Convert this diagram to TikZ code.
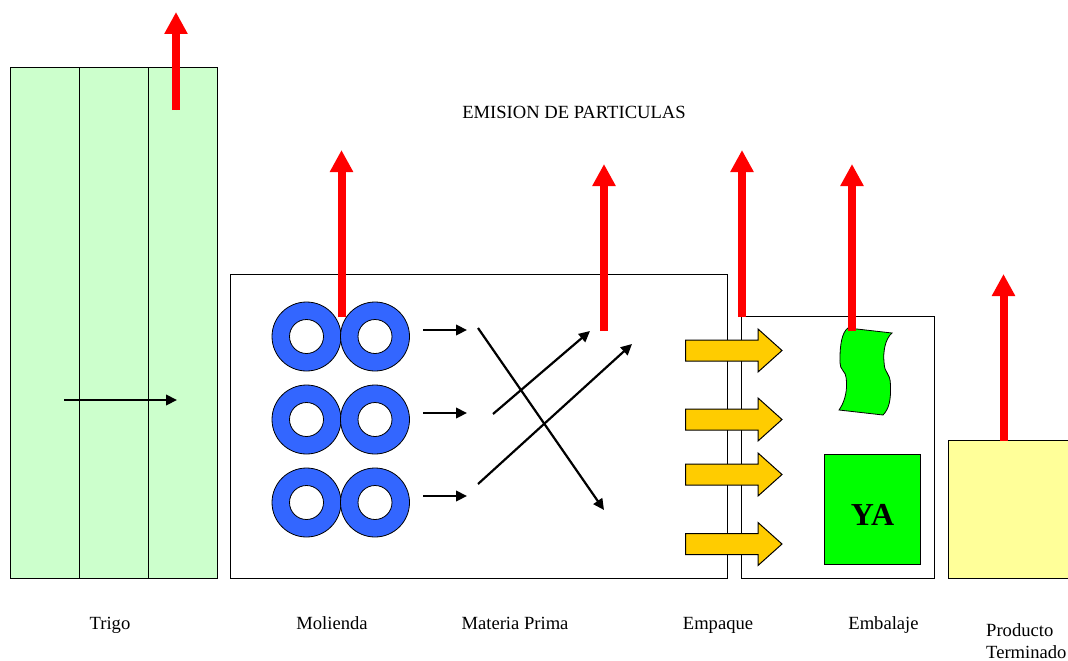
\documentclass[tikz,border=0pt]{standalone}
\usepackage{fontspec}
\setmainfont{Liberation Serif}
\usetikzlibrary{arrows.meta}
\tikzset{
  panel/.style={draw=black,line width=0.8pt,fill=#1,inner sep=0pt,anchor=north west},
  lbl/.style={font=\fontsize{18.6}{22}\selectfont,inner sep=0pt,text=black},
  lblb/.style={lbl,anchor=base},
  redup/.style={draw=red,line width=8pt,-{Triangle[width=22pt,length=22pt]},fill=red},
  blk/.style={draw=black,line width=2.2pt,-{Triangle[width=10.5pt,length=11pt]}},
  donut/.style={draw=black,line width=0.8pt,fill=ringblue,even odd rule},
  yarrow/.style={draw=black,line width=1pt,fill=arrowyellow},
}
\definecolor{palegreen}{HTML}{CCFFCC}
\definecolor{paleyellow}{HTML}{FFFF99}
\definecolor{ringblue}{HTML}{3366FF}
\definecolor{arrowyellow}{HTML}{FFCC00}
\definecolor{brightgreen}{HTML}{00FF00}
\newcommand{\panelbox}[6]{\node[panel=#6,minimum width=#4 pt,minimum height=#5 pt] (#1) at (#2,#3) {};}
\begin{document}
\begin{tikzpicture}[x=1pt,y=-1pt]
\useasboundingbox (0,0) rectangle (1068,661);
% wheat silo
\panelbox{p1}{9.5}{67}{69}{511}{palegreen}
\panelbox{p2}{78.5}{67}{69}{511}{palegreen}
\panelbox{p3}{147.5}{67}{69.5}{511}{palegreen}
% rooms
\panelbox{mol}{230}{274}{497}{304}{white}
\panelbox{emb}{740.5}{316}{193.5}{262}{white}
\panelbox{prod}{947.5}{440}{125}{138}{paleyellow}
\panelbox{ya}{823.5}{453.5}{96.5}{110.5}{brightgreen}
\node[font=\bfseries\fontsize{32}{32}\selectfont,inner sep=0pt] (yat) at (872.5,515) {YA};
% wavy sheet
\filldraw[draw=black,line width=0.8pt,fill=brightgreen]
  (848,328) -- (892,333)
  .. controls (885,339) and (883,352) .. (884,362)
  .. controls (884.5,375) and (890,371) .. (890.5,385)
  .. controls (891,400) and (889,409) .. (883,415)
  -- (839,410)
  .. controls (844,403) and (847,393) .. (846.5,383)
  .. controls (846,365) and (839.5,376) .. (840,358)
  .. controls (840,345) and (842,332) .. (848,328) -- cycle;
% rollers
\foreach \n/\x/\y in {a/306.5/336.5,b/375/336.5,c/306.5/419.5,d/375/419.5,e/306.5/502.5,f/375/502.5}{
  \coordinate (r\n) at (\x,\y);
  \path[donut] (r\n) circle[radius=34.5pt] (r\n) circle[radius=17pt];
}
% flow arrows
\coordinate (w0) at (64,400); \coordinate (w1) at (177,400);
\draw[blk] (w0) -- (w1);
\foreach \n/\y in {a/330,b/413,c/496}{
  \coordinate (s\n) at (423,\y); \coordinate (t\n) at (467,\y);
  \draw[blk] (s\n) -- (t\n);
}
\coordinate (c1a) at (478,328); \coordinate (c1b) at (604,510);
\coordinate (c2a) at (493,414); \coordinate (c2b) at (590,331);
\coordinate (c3a) at (478,484); \coordinate (c3b) at (632,344);
\draw[blk] (c1a) -- (c1b);
\draw[blk] (c2a) -- (c2b);
\draw[blk] (c3a) -- (c3b);
% yellow arrows
\foreach \y in {350.5,419.5,474.5,544}{
  \filldraw[yarrow] (685.5,\y-10.5) -- (758,\y-10.5) -- (758,\y-21.5) -- (782,\y) -- (758,\y+21.5) -- (758,\y+10.5) -- (685.5,\y+10.5) -- cycle;
}
% red emission arrows
\foreach \n/\x/\a/\b in {a/176/110/12,b/341.5/317/150,c/604/331/164,d/742/317/150,e/852/331/164,f/1003.5/441/274}{
  \coordinate (ea\n) at (\x,\a); \coordinate (eb\n) at (\x,\b);
  \draw[redup] (ea\n) -- (eb\n);
}
% labels
\node[lbl] (title) at (574,112) {EMISION DE PARTICULAS};
\node[lblb] (l1) at (110,629) {Trigo};
\node[lblb] (l2) at (332,629) {Molienda};
\node[lblb] (l3) at (515,629) {Materia Prima};
\node[lblb] (l4) at (718,629) {Empaque};
\node[lblb] (l5) at (883.5,629) {Embalaje};
\node[lbl,align=left,anchor=north west] (l6) at (986,623.5) {Producto\\Terminado};
\end{tikzpicture}
\end{document}
